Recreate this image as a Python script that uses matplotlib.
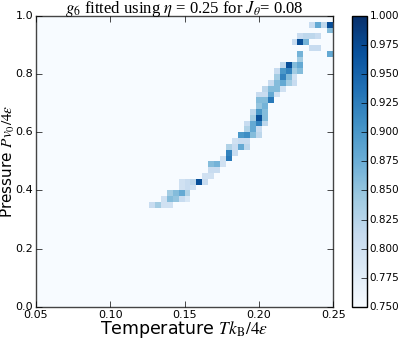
import matplotlib
matplotlib.use("Agg")
import matplotlib.pyplot as plt
import numpy as np

plt.style.use('classic')
plt.rcParams['mathtext.fontset'] = 'stix'

# grid of the histogram
t_edges = np.linspace(0.05, 0.25, 51)
p_edges = np.linspace(0.0, 1.0, 51)
background = 0.70

# non-background cells: (temperature column, pressure row, g6 value)
col = [19, 20, 21, 22,
       21, 22, 23, 24, 25,
       22, 23, 24, 25,
       24, 25, 26,
       24, 25, 26, 27, 28,
       28, 29,
       29, 30,
       29, 30, 31,
       31, 32,
       32, 33,
       32, 33, 34, 35,
       33, 34, 35,
       34, 35, 36, 37,
       35, 36, 37,
       35, 36, 37, 38,
       36, 37, 38,
       36, 37, 38,
       37, 38,
       37, 38, 39,
       37, 38, 39, 40,
       38, 39, 40, 41,
       39, 40, 41, 42, 43,
       40, 41, 42, 43,
       40, 41, 42, 43, 44,
       41, 42, 43, 44,
       44,
       44, 49,
       46, 47,
       43, 44, 45,
       44, 45, 46, 47,
       49,
       46, 47, 48, 49]
row = [17, 17, 17, 17,
       18, 18, 18, 18, 18,
       19, 19, 19, 19,
       20, 20, 20,
       21, 21, 21, 21, 21,
       22, 22,
       23, 23,
       24, 24, 24,
       25, 25,
       26, 26,
       27, 27, 27, 27,
       28, 28, 28,
       29, 29, 29, 29,
       30, 30, 30,
       31, 31, 31, 31,
       32, 32, 32,
       33, 33, 33,
       34, 34,
       35, 35, 35,
       36, 36, 36, 36,
       37, 37, 37, 37,
       38, 38, 38, 38, 38,
       39, 39, 39, 39,
       40, 40, 40, 40, 40,
       41, 41, 41, 41,
       42,
       43, 43,
       44, 44,
       45, 45, 45,
       46, 46, 46, 46,
       47,
       48, 48, 48, 48]
val = [0.81, 0.84, 0.80, 0.80,
       0.80, 0.86, 0.85, 0.81, 0.79,
       0.84, 0.86, 0.88, 0.83,
       0.80, 0.81, 0.80,
       0.80, 0.81, 0.82, 0.97, 0.81,
       0.80, 0.80,
       0.81, 0.81,
       0.86, 0.87, 0.80,
       0.80, 0.93,
       0.92, 0.81,
       0.83, 0.81, 0.88, 0.82,
       0.80, 0.81, 0.81,
       0.90, 0.91, 0.86, 0.82,
       0.83, 0.88, 0.81,
       0.81, 0.88, 0.92, 0.82,
       0.84, 0.97, 0.86,
       0.82, 0.90, 0.86,
       0.85, 0.87,
       0.86, 0.86, 0.93,
       0.81, 0.81, 0.88, 0.80,
       0.82, 0.86, 0.86, 0.80,
       0.81, 0.86, 0.88, 0.84, 0.81,
       0.84, 0.92, 0.86, 0.80,
       0.81, 0.90, 0.92, 0.84, 0.86,
       0.82, 0.97, 0.86, 0.88,
       0.84,
       0.87, 0.88,
       0.81, 0.81,
       0.81, 0.97, 0.87,
       0.81, 0.82, 0.82, 0.81,
       0.86,
       0.81, 0.88, 0.82, 0.97]

g6 = np.full((len(p_edges) - 1, len(t_edges) - 1), background)
for i, j, v in zip(col, row, val):
    g6[j, i] = v

fig = plt.figure(figsize=(3.99, 3.38), dpi=100)
ax = fig.add_axes([0.090, 0.092, 0.745, 0.861])
cax = fig.add_axes([0.882, 0.092, 0.038, 0.861])

mesh = ax.pcolormesh(t_edges, p_edges, g6, cmap='Blues', vmin=0.75, vmax=1.0)
ax.set_xlim(0.05, 0.25)
ax.set_ylim(0.0, 1.0)
ax.set_xticks([0.05, 0.10, 0.15, 0.20, 0.25])
ax.set_yticks([0.0, 0.2, 0.4, 0.6, 0.8, 1.0])
ax.xaxis.set_major_formatter(matplotlib.ticker.FormatStrFormatter('%.2f'))
ax.yaxis.set_major_formatter(matplotlib.ticker.FormatStrFormatter('%.1f'))
ax.tick_params(labelsize=8, pad=2)
for s in ax.spines.values():
    s.set_color('#444444')

ax.set_title(r'$g_6$ fitted using $\eta$ = 0.25 for $J_\theta$= 0.08',
             family='Liberation Serif', fontsize=12, pad=2)
ax.set_xlabel(r'Temperature $Tk_\mathrm{B}/4\varepsilon$', fontsize=12.5)
ax.set_ylabel(r'Pressure $Pv_0/4\varepsilon$', fontsize=11)
ax.xaxis.set_label_coords(0.5, -0.04)
ax.yaxis.set_label_coords(-0.064, 0.5)

cb = fig.colorbar(mesh, cax=cax, ticks=np.arange(0.75, 1.0001, 0.025),
                  format='%.3f')
cb.ax.tick_params(labelsize=7.5, pad=2)

fig.savefig('out.png', dpi=100)
